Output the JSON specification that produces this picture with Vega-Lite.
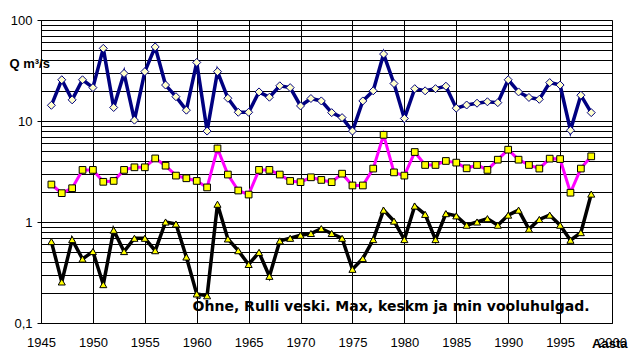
{
  "$schema": "https://vega.github.io/schema/vega-lite/v6.json",
  "width": 571,
  "height": 303,
  "autosize": "none",
  "padding": {"left": 41, "top": 20, "right": 24, "bottom": 40},
  "background": "white",
  "config": {
    "view": {"stroke": "#808080", "strokeWidth": 1},
    "font": "Liberation Sans"
  },
  "data": {
    "values": [
      {"year": 1946, "max": 14.3, "mean": 2.35, "min": 0.64},
      {"year": 1947, "max": 25.6, "mean": 1.93, "min": 0.255},
      {"year": 1948, "max": 16.2, "mean": 2.16, "min": 0.67},
      {"year": 1949, "max": 25.6, "mean": 3.28, "min": 0.43},
      {"year": 1950, "max": 21.4, "mean": 3.28, "min": 0.51},
      {"year": 1951, "max": 52.4, "mean": 2.5, "min": 0.24},
      {"year": 1952, "max": 13.6, "mean": 2.55, "min": 0.83},
      {"year": 1953, "max": 29.6, "mean": 3.28, "min": 0.51},
      {"year": 1954, "max": 10.2, "mean": 3.48, "min": 0.69},
      {"year": 1955, "max": 30.8, "mean": 3.48, "min": 0.69},
      {"year": 1956, "max": 54.1, "mean": 4.26, "min": 0.52},
      {"year": 1957, "max": 22.7, "mean": 3.61, "min": 1.0},
      {"year": 1958, "max": 17.4, "mean": 2.88, "min": 0.955},
      {"year": 1959, "max": 12.8, "mean": 2.71, "min": 0.45},
      {"year": 1960, "max": 38.0, "mean": 2.55, "min": 0.194},
      {"year": 1961, "max": 7.95, "mean": 2.2, "min": 0.186},
      {"year": 1962, "max": 30.8, "mean": 5.35, "min": 1.5},
      {"year": 1963, "max": 16.8, "mean": 2.95, "min": 0.68},
      {"year": 1964, "max": 12.2, "mean": 2.05, "min": 0.52},
      {"year": 1965, "max": 12.2, "mean": 1.87, "min": 0.38},
      {"year": 1966, "max": 19.4, "mean": 3.28, "min": 0.5},
      {"year": 1967, "max": 17.2, "mean": 3.28, "min": 0.29},
      {"year": 1968, "max": 22.3, "mean": 2.95, "min": 0.65},
      {"year": 1969, "max": 21.4, "mean": 2.55, "min": 0.69},
      {"year": 1970, "max": 14.1, "mean": 2.48, "min": 0.74},
      {"year": 1971, "max": 16.7, "mean": 2.77, "min": 0.77},
      {"year": 1972, "max": 15.8, "mean": 2.61, "min": 0.86},
      {"year": 1973, "max": 12.1, "mean": 2.48, "min": 0.77},
      {"year": 1974, "max": 10.8, "mean": 3.01, "min": 0.69},
      {"year": 1975, "max": 7.95, "mean": 2.3, "min": 0.34},
      {"year": 1976, "max": 15.8, "mean": 2.3, "min": 0.435},
      {"year": 1977, "max": 19.9, "mean": 3.38, "min": 0.67},
      {"year": 1978, "max": 46.0, "mean": 7.3, "min": 1.31},
      {"year": 1979, "max": 23.5, "mean": 3.1, "min": 1.02},
      {"year": 1980, "max": 10.6, "mean": 2.88, "min": 0.67},
      {"year": 1981, "max": 20.9, "mean": 4.93, "min": 1.44},
      {"year": 1982, "max": 19.9, "mean": 3.67, "min": 1.19},
      {"year": 1983, "max": 20.9, "mean": 3.67, "min": 0.67},
      {"year": 1984, "max": 22.1, "mean": 4.02, "min": 1.21},
      {"year": 1985, "max": 13.4, "mean": 3.87, "min": 1.15},
      {"year": 1986, "max": 14.4, "mean": 3.4, "min": 0.93},
      {"year": 1987, "max": 15.0, "mean": 3.67, "min": 1.0},
      {"year": 1988, "max": 15.5, "mean": 3.28, "min": 1.08},
      {"year": 1989, "max": 15.2, "mean": 4.14, "min": 0.93},
      {"year": 1990, "max": 25.6, "mean": 5.2, "min": 1.17},
      {"year": 1991, "max": 19.4, "mean": 4.14, "min": 1.31},
      {"year": 1992, "max": 17.1, "mean": 3.67, "min": 0.85},
      {"year": 1993, "max": 16.4, "mean": 3.38, "min": 1.06},
      {"year": 1994, "max": 24.0, "mean": 4.24, "min": 1.17},
      {"year": 1995, "max": 22.7, "mean": 4.2, "min": 0.93},
      {"year": 1996, "max": 8.1, "mean": 1.95, "min": 0.66},
      {"year": 1997, "max": 18.0, "mean": 3.38, "min": 0.785},
      {"year": 1998, "max": 12.1, "mean": 4.47, "min": 1.89}
    ]
  },
  "layer": [
    {
      "mark": {"type": "line", "color": "#000080", "strokeWidth": 3.5, "point": {"shape": "diamond", "size": 64, "filled": true, "fill": "#FFFFCC", "stroke": "#000080", "strokeWidth": 1}},
      "encoding": {
        "x": {
          "field": "year",
          "type": "quantitative",
          "scale": {"domain": [1945, 2000], "nice": false, "zero": false},
          "axis": {
            "values": [1945, 1950, 1955, 1960, 1965, 1970, 1975, 1980, 1985, 1990, 1995, 2000],
            "format": "d",
            "grid": true,
            "gridColor": "#000000",
            "gridWidth": 1,
            "gridOpacity": 1,
            "ticks": false,
            "domainColor": "#000000",
            "domainWidth": 1,
            "labelFont": "Liberation Sans",
            "labelFontSize": 13,
            "labelColor": "#000000",
            "labelPadding": 13,
            "labelFlush": false,
            "title": "Aasta",
            "titleFont": "Liberation Sans",
            "titleFontSize": 13,
            "titleFontWeight": "bold",
            "titleColor": "#000000",
            "titleAnchor": "end",
            "titleAlign": "right",
            "titleBaseline": "middle",
            "titleX": 586,
            "titleY": 20
          }
        },
        "y": {
          "field": "max",
          "type": "quantitative",
          "scale": {"type": "log", "domain": [0.1, 100], "nice": false},
          "axis": {
            "values": [0.1, 0.2, 0.3, 0.4, 0.5, 0.6, 0.7, 0.8, 0.9, 1, 2, 3, 4, 5, 6, 7, 8, 9, 10, 20, 30, 40, 50, 60, 70, 80, 90, 100],
            "labelExpr": "datum.value == 0.1 ? '0,1' : datum.value == 1 ? '1' : datum.value == 10 ? '10' : datum.value == 100 ? '100' : ''",
            "grid": true,
            "gridColor": "#000000",
            "gridWidth": 1,
            "gridOpacity": 1,
            "tickSize": 4,
            "tickColor": "#000000",
            "tickOpacity": {"condition": {"test": "datum.value == 0.1 || datum.value == 1 || datum.value == 10 || datum.value == 100", "value": 1}, "value": 0},
            "domainColor": "#000000",
            "labelFont": "Liberation Sans",
            "labelFontSize": 13,
            "labelColor": "#000000",
            "labelPadding": 5,
            "labelFlush": false,
            "title": "Q m³/s",
            "titleFont": "Liberation Sans",
            "titleFontSize": 13,
            "titleFontWeight": "bold",
            "titleColor": "#000000",
            "titleAngle": 0,
            "titleAlign": "left",
            "titleBaseline": "middle",
            "titleX": -32,
            "titleY": 43
          }
        }
      }
    },
    {
      "mark": {"type": "line", "color": "#FF00FF", "strokeWidth": 3, "point": {"shape": "square", "size": 45, "filled": true, "fill": "#FFFF00", "stroke": "#000000", "strokeWidth": 1}},
      "encoding": {"x": {"field": "year", "type": "quantitative"}, "y": {"field": "mean", "type": "quantitative"}}
    },
    {
      "mark": {"type": "line", "color": "#000000", "strokeWidth": 3.5, "point": {"shape": "triangle-up", "size": 50, "filled": true, "fill": "#FFFF00", "stroke": "#000000", "strokeWidth": 1}},
      "encoding": {"x": {"field": "year", "type": "quantitative"}, "y": {"field": "min", "type": "quantitative"}}
    },
    {
      "data": {"values": [{"label": "Õhne, Rulli veski. Max, keskm ja min vooluhulgad."}]},
      "mark": {"type": "text", "font": "DejaVu Sans", "fontSize": 14, "fontWeight": "bold", "align": "left", "baseline": "alphabetic", "color": "#000000"},
      "encoding": {
        "text": {"field": "label", "type": "nominal"},
        "x": {"datum": 1959.6},
        "y": {"datum": 0.13}
      }
    }
  ]
}
